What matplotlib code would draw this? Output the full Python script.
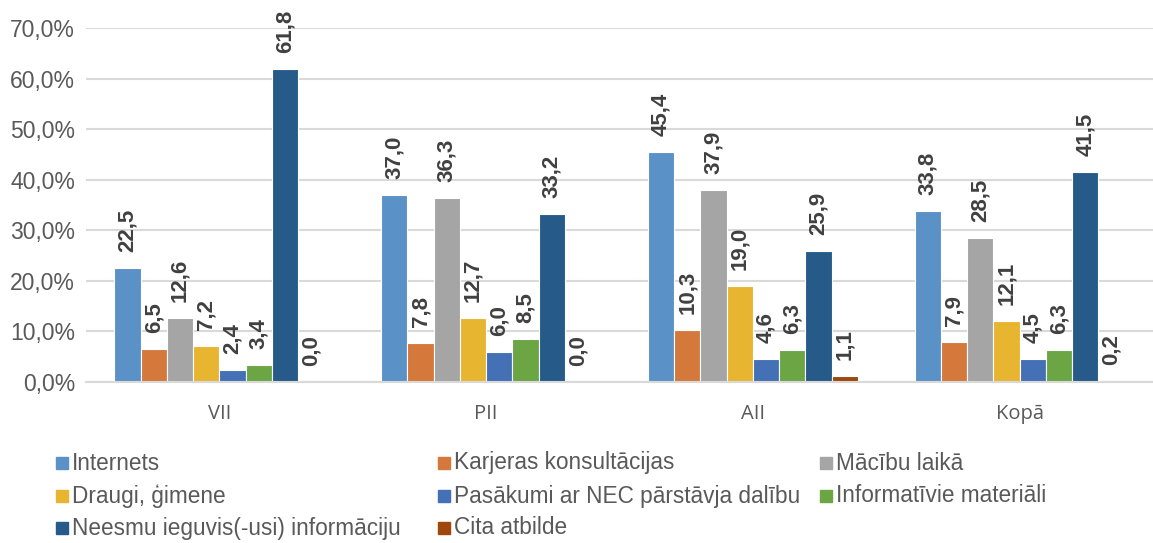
import matplotlib.pyplot as plt
from matplotlib.patches import Rectangle
from matplotlib.ticker import FuncFormatter
import numpy as np

# Data (percent of respondents)
groups = ['VII', 'PII', 'AII', 'Kopā']
series_names = ['Internets', 'Karjeras konsultācijas', 'Mācību laikā',
                'Draugi, ģimene', 'Pasākumi ar NEC pārstāvja dalību',
                'Informatīvie materiāli', 'Neesmu ieguvis(-usi) informāciju',
                'Cita atbilde']
internets = [22.5, 37.0, 45.4, 33.8]
karjeras = [6.5, 7.8, 10.3, 7.9]
macibu = [12.6, 36.3, 37.9, 28.5]
draugi = [7.2, 12.7, 19.0, 12.1]
pasakumi = [2.4, 6.0, 4.6, 4.5]
informativie = [3.4, 8.5, 6.3, 6.3]
neesmu = [61.8, 33.2, 25.9, 41.5]
cita = [0.0, 0.0, 1.1, 0.2]
series_values = [internets, karjeras, macibu, draugi, pasakumi,
                 informativie, neesmu, cita]

colors = ['#5A92C8', '#D4783B', '#A5A5A5', '#E8B530',
          '#4470B6', '#6BA544', '#265B89', '#9E480E']

plt.rcParams['font.family'] = ['Liberation Sans', 'DejaVu Sans']

fig = plt.figure(figsize=(11.53, 5.43), dpi=100)
ax = fig.add_axes([86 / 1153, 161 / 543, 1 - 86 / 1153, 354 / 543])

x = np.arange(len(groups))
n = len(series_values)
w = 0.0984
for i, (vals, c) in enumerate(zip(series_values, colors)):
    pos = x + (i - (n - 1) / 2) * w
    bars = ax.bar(pos, vals, width=w, color=c, edgecolor='white',
                  linewidth=0.8, zorder=3)
    for b, v in zip(bars, vals):
        ax.annotate(f'{v:.1f}'.replace('.', ','),
                    (b.get_x() + b.get_width() / 2, v),
                    xytext=(0, 11.5), textcoords='offset points',
                    rotation=90, ha='center', va='bottom',
                    fontsize=16, fontweight='bold', color='#404040',
                    annotation_clip=False)

ax.set_xlim(-0.5, len(groups) - 0.5)
ax.set_ylim(0, 70)
ax.set_yticks(np.arange(0, 71, 10))
ax.yaxis.set_major_formatter(FuncFormatter(lambda v, p: f'{v:.1f}%'.replace('.', ',')))
ax.set_xticks(x)
ax.set_xticklabels(groups, fontfamily='Open Sans', fontsize=14.5, color='#595959')
ax.tick_params(axis='y', length=0, pad=8, labelsize=16.5, labelcolor='#595959')
ax.tick_params(axis='x', length=0, pad=16)
ax.grid(axis='y', color='#D9D9D9', linewidth=1.5, zorder=0)
for s in ['top', 'right', 'left']:
    ax.spines[s].set_visible(False)
ax.spines['bottom'].set_color('#D9D9D9')
ax.spines['bottom'].set_linewidth(1.5)
ax.spines['bottom'].set_zorder(4)

# legend laid out like the original (3 columns, row-major)
col_x = [56, 438, 820]
row_y = [463, 496, 528]
for i, (name, c) in enumerate(zip(series_names, colors)):
    cx = col_x[i % 3]
    cy = row_y[i // 3]
    fig.patches.append(Rectangle((cx / 1153, (543 - cy - 6) / 543), 12 / 1153, 12 / 543,
                                 transform=fig.transFigure, color=c))
    fig.text((cx + 16) / 1153, (543 - cy) / 543, name, fontsize=16.3,
             color='#595959', va='center', ha='left')

fig.savefig('out.png', dpi=100)
